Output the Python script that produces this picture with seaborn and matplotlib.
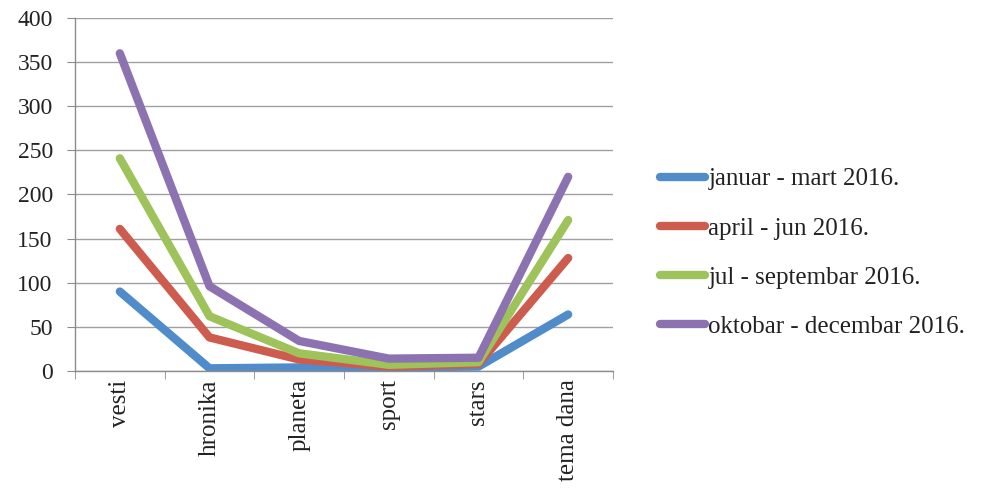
import matplotlib
matplotlib.use("Agg")
import matplotlib.pyplot as plt
import seaborn as sns
import pandas as pd
from matplotlib.ticker import FixedLocator

categories = ["vesti", "hronika", "planeta", "sport", "stars", "tema dana"]
series_names = ["januar - mart 2016.", "april - jun 2016.",
                "jul - septembar 2016.", "oktobar - decembar 2016."]
jan_mar = [90, 3, 4, 4, 5, 64]
apr_jun = [161, 38, 13, 5, 8, 128]
jul_sep = [241, 62, 20, 7, 10, 171]
okt_dec = [360, 96, 34, 14, 15, 220]
colors = ["#4F8CC9", "#CD5C4F", "#9DC35A", "#8C72B0"]

rows = []
for name, vals in zip(series_names, [jan_mar, apr_jun, jul_sep, okt_dec]):
    for c, v in zip(categories, vals):
        rows.append({"kategorija": c, "broj": v, "period": name})
df = pd.DataFrame(rows)

sns.set_style("white")
plt.rcParams["font.family"] = ["Liberation Serif", "DejaVu Serif"]
plt.rcParams["text.color"] = "#222222"

fig = plt.figure(figsize=(9.83, 4.92), dpi=100)
ax = fig.add_axes([0.0763, 0.246, 0.5473, 0.7174])

sns.lineplot(data=df, x="kategorija", y="broj", hue="period",
             palette=colors, linewidth=6, sort=False, ax=ax,
             solid_capstyle="round", solid_joinstyle="round")

ax.set_xlim(-0.5, len(categories) - 0.5)
ax.set_ylim(0, 400)
ax.set_yticks(range(0, 401, 50))
ax.grid(axis="y", color="#A0A0A0", linewidth=1)
ax.set_axisbelow(True)
ax.set_xlabel("")
ax.set_ylabel("")

for s in ["top", "right"]:
    ax.spines[s].set_visible(False)
for s in ["left", "bottom"]:
    ax.spines[s].set_color("#8C8C8C")
    ax.spines[s].set_linewidth(1)

ax.set_xticks(range(len(categories)))
ax.set_xticklabels(categories, rotation=90, va="top")
ax.xaxis.set_minor_locator(FixedLocator([i - 0.5 for i in range(len(categories) + 1)]))
ax.tick_params(axis="x", which="major", length=0, pad=6, labelsize=18, labelcolor="#222222")
ax.tick_params(axis="x", which="minor", length=6, color="#8C8C8C", direction="out", bottom=True)
ax.tick_params(axis="y", length=6, pad=10, color="#8C8C8C", direction="out", left=True,
               labelsize=17, labelcolor="#222222")

handles, labels = ax.get_legend_handles_labels()
ax.legend_.remove()
leg = fig.legend(handles, labels, loc="center left", bbox_to_anchor=(0.671, 0.486),
                 frameon=False, fontsize=18, handlelength=1.8, handletextpad=0.15,
                 labelspacing=1.07, borderpad=0, borderaxespad=0)
for line in leg.get_lines():
    line.set_linewidth(6)
    line.set_solid_capstyle("round")

fig.savefig("out.png", dpi=100)
